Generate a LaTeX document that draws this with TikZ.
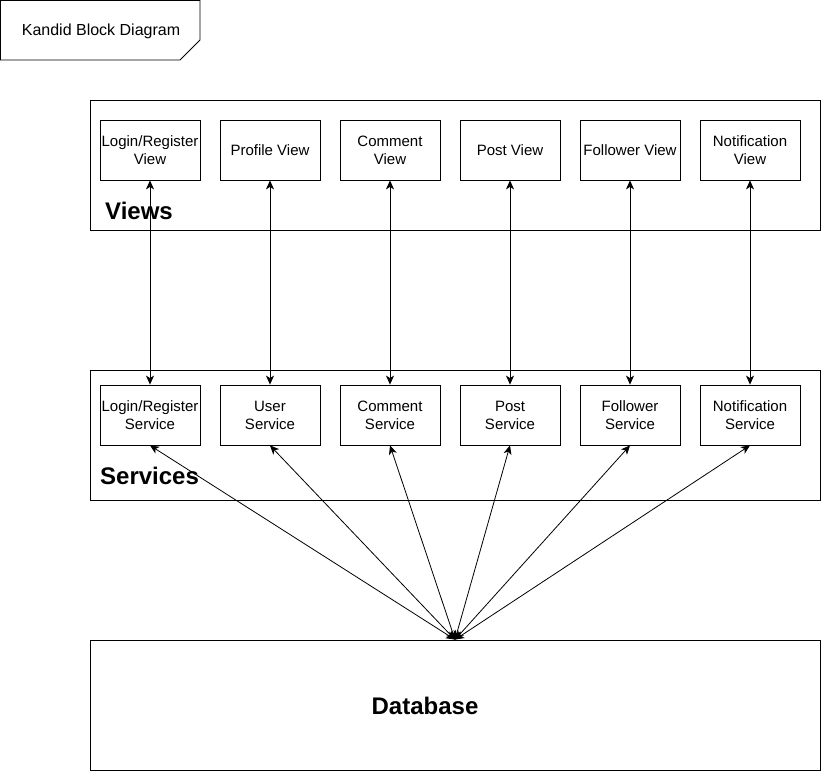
\documentclass[tikz,border=0pt]{standalone}
\usepackage{fontspec}
\setmainfont{Liberation Sans}
\usetikzlibrary{arrows.meta}

\begin{document}
\begin{tikzpicture}[x=1pt,y=-1pt]
      \tikzstyle{every node}+=[inner sep=0pt]
      \tikzstyle{layer}=[draw=black,line width=0.8pt,minimum width=730pt,minimum height=130pt]
      \tikzstyle{block}=[draw=black,line width=0.8pt,minimum width=100pt,minimum height=60pt,align=center,font=\fontsize{15}{18}\selectfont]
      \tikzstyle{caption}=[anchor=west,font=\fontsize{24}{28}\selectfont\bfseries]
      \tikzstyle{link}=[black,line width=0.8pt,{Stealth[length=9pt,width=8pt,inset=2.5pt]}-{Stealth[length=9pt,width=8pt,inset=2.5pt]}]
      \useasboundingbox (0,0) rectangle (821,771);
      % title card
      \draw [black,line width=0.8pt] (0.5,0.5) -- (200,0.5) -- (200,40) -- (180,60) -- (0.5,60) -- cycle;
      \node (title) at (101,31) {\fontsize{16}{19}\selectfont Kandid Block Diagram};
      % layers
      \node [layer] (views) at (455,165) {};
      \node [caption] (viewslbl) at (105,211) {Views};
      \node [layer] (services) at (455,435) {};
      \node [caption] (serviceslbl) at (100,476) {Services};
      \node [layer] (db) at (455,705) {};
      \node [font=\fontsize{24}{28}\selectfont\bfseries] (dblbl) at (425,706) {Database};
      % views
      \node [block] (v1) at (150,150) {Login/Register\\View};
      \node [block] (v2) at (270,150) {Profile View};
      \node [block] (v3) at (390,150) {Comment\\View};
      \node [block] (v4) at (510,150) {Post View};
      \node [block] (v5) at (630,150) {Follower View};
      \node [block] (v6) at (750,150) {Notification\\View};
      % services
      \node [block] (s1) at (150,415) {Login/Register\\Service};
      \node [block] (s2) at (270,415) {User\\Service};
      \node [block] (s3) at (390,415) {Comment\\Service};
      \node [block] (s4) at (510,415) {Post\\Service};
      \node [block] (s5) at (630,415) {Follower\\Service};
      \node [block] (s6) at (750,415) {Notification\\Service};
      % connectors
      \foreach \i in {1,...,6} {
        \draw [link] (v\i.south) -- (s\i.north);
        \draw [link] (s\i.south) -- (db.north);
      }
\end{tikzpicture}
\end{document}
